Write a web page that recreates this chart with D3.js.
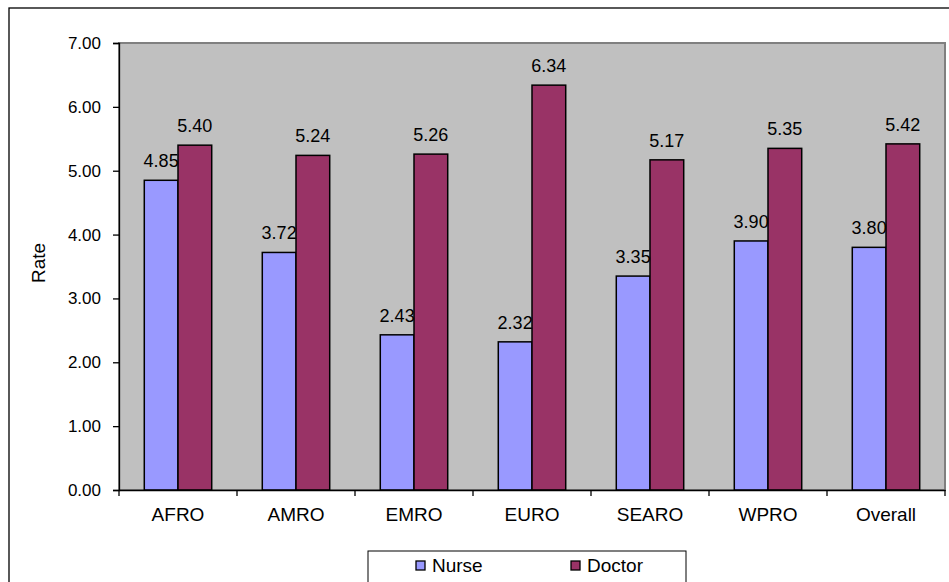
<!DOCTYPE html>
<html>
<head>
<meta charset="utf-8">
<script src="https://cdn.jsdelivr.net/npm/d3@7"></script>
<style>
  html, body { margin: 0; padding: 0; background: #fff; }
  svg { display: block; font-family: "Liberation Sans", Arial, sans-serif; }
</style>
</head>
<body>
<svg id="chart" width="949" height="582"></svg>
<script>
// Regions and rates per staff group
const regions = ["AFRO", "AMRO", "EMRO", "EURO", "SEARO", "WPRO", "Overall"];
const nurseRates = [4.85, 3.72, 2.43, 2.32, 3.35, 3.90, 3.80];
const doctorRates = [5.40, 5.24, 5.26, 6.34, 5.17, 5.35, 5.42];
const seriesNames = ["Nurse", "Doctor"];
const yTicks = [0, 1, 2, 3, 4, 5, 6, 7];

const colors = { Nurse: "#9999FF", Doctor: "#993366" };
const seriesValues = { Nurse: nurseRates, Doctor: doctorRates };

const svg = d3.select("#chart");
const plot = { left: 119, top: 43, right: 945, bottom: 490 };

// Outer chart frame
svg.append("rect")
  .attr("x", 9).attr("y", 8)
  .attr("width", 960).attr("height", 600)
  .attr("fill", "#fff").attr("stroke", "#000").attr("stroke-width", 1.3);

const x = d3.scaleBand().domain(regions).range([plot.left, plot.right]).paddingInner(0).paddingOuter(0);
const y = d3.scaleLinear().domain([0, 7]).range([plot.bottom, plot.top]);

// Plot background with gray border on top and right
svg.append("rect")
  .attr("x", plot.left).attr("y", plot.top)
  .attr("width", plot.right - plot.left).attr("height", plot.bottom - plot.top)
  .attr("fill", "#C0C0C0").attr("stroke", "#808080").attr("stroke-width", 2);

// Bars: each group is two bars with a 150% gap split on both sides
const barW = x.bandwidth() / 3.5;
const groups = svg.append("g").selectAll("g")
  .data(regions).join("g")
  .attr("transform", d => `translate(${x(d)},0)`);

seriesNames.forEach((s, si) => {
  groups.append("rect")
    .attr("x", barW * 0.75 + si * barW)
    .attr("y", (d, i) => y(seriesValues[s][i]))
    .attr("width", barW)
    .attr("height", (d, i) => y(0) - y(seriesValues[s][i]))
    .attr("fill", colors[s])
    .attr("stroke", "#000").attr("stroke-width", 1.5);
});

seriesNames.forEach((s, si) => {
  groups.append("text")
    .attr("x", barW * 0.75 + si * barW + barW / 2)
    .attr("y", (d, i) => y(seriesValues[s][i]) - 13)
    .attr("text-anchor", "middle")
    .attr("font-size", 18)
    .attr("fill", "#000")
    .text((d, i) => seriesValues[s][i].toFixed(2));
});

// Y axis
const yAxis = svg.append("g")
  .attr("transform", `translate(${plot.left},0)`)
  .call(d3.axisLeft(y).tickValues(yTicks).tickFormat(d3.format(".2f")).tickSize(6).tickPadding(12));
yAxis.select(".domain").attr("stroke", "#000").attr("stroke-width", 1.3);
yAxis.selectAll(".tick line").attr("stroke", "#000").attr("stroke-width", 1.3);
yAxis.selectAll("text").attr("font-size", 17).attr("font-family", "Liberation Sans, Arial, sans-serif").attr("fill", "#000");

// X axis with ticks at category boundaries
const xAxis = svg.append("g")
  .attr("transform", `translate(0,${plot.bottom})`)
  .call(d3.axisBottom(x).tickSize(0).tickPadding(18));
xAxis.select(".domain").attr("stroke", "#000").attr("stroke-width", 1.3);
xAxis.selectAll("text").attr("font-size", 19).attr("font-family", "Liberation Sans, Arial, sans-serif").attr("fill", "#000");
xAxis.selectAll(".boundary")
  .data(regions.map(r => x(r)).concat([plot.right]))
  .join("line")
  .attr("x1", d => d).attr("x2", d => d)
  .attr("y1", 0).attr("y2", 6)
  .attr("stroke", "#000").attr("stroke-width", 1.3);

// Y axis title
svg.append("text")
  .attr("transform", "translate(45,263) rotate(-90)")
  .attr("text-anchor", "middle")
  .attr("font-size", 19)
  .text("Rate");

// Legend
const legend = svg.append("g");
legend.append("rect")
  .attr("x", 368).attr("y", 551).attr("width", 318).attr("height", 40)
  .attr("fill", "#fff").attr("stroke", "#000").attr("stroke-width", 1);
const legendX = { Nurse: 416, Doctor: 571 };
seriesNames.forEach(s => {
  legend.append("rect")
    .attr("x", legendX[s]).attr("y", 561).attr("width", 9).attr("height", 9)
    .attr("fill", colors[s]).attr("stroke", "#000").attr("stroke-width", 1.3);
  legend.append("text")
    .attr("x", legendX[s] + 16).attr("y", 572)
    .attr("font-size", 19)
    .text(s);
});
</script>
</body>
</html>
